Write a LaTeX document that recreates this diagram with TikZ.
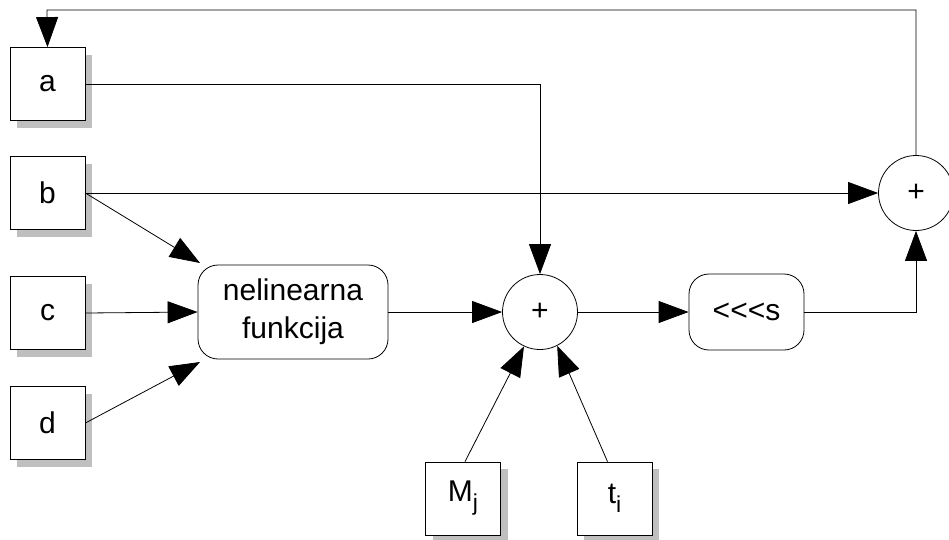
\documentclass[tikz,border=0pt]{standalone}
\usepackage{fontspec}
\setmainfont{Liberation Sans}
\usetikzlibrary{arrows.meta,shadows}
\begin{document}
\begin{tikzpicture}[x=1pt,y=-1pt,
  every node/.style={font=\fontsize{30}{38}\selectfont},
  inbox/.style={draw,line width=0.8pt,fill=white,minimum width=75pt,minimum height=73pt,inner sep=0pt,
    drop shadow={shadow xshift=7pt,shadow yshift=-7pt,fill=black!25,opacity=1}},
  rbox/.style={draw,line width=0.8pt,rounded corners=20pt,align=center,inner sep=0pt},
  sumc/.style={draw,line width=0.8pt,circle,minimum size=75pt,inner sep=0pt},
  conn/.style={line width=0.8pt,-{Triangle[length=30pt,width=22pt]}},
  plain/.style={line width=0.8pt}]
\useasboundingbox (0,0) rectangle (949,539);
\node[inbox] (a) at (47.5,84) {a};
\node[inbox] (b) at (47.5,193) {b};
\node[inbox] (c) at (47.5,313) {c};
\node[inbox] (d) at (47.5,423) {d};
\node[rbox,minimum width=190pt,minimum height=94pt] (f) at (293,312) {nelinearna\\funkcija};
\node[sumc] (s1) at (540,312) {+};
\node[rbox,minimum width=115pt,minimum height=76pt] (sh) at (746.5,312) {<\kern0pt<\kern0pt<\kern0pt s};
\node[sumc] (s2) at (916,193) {+};
\node[inbox] (m) at (463,498.5) {M\raisebox{-0.3em}{\fontsize{23}{23}\selectfont j}};
\node[inbox] (t) at (614.5,498.5) {t\raisebox{-0.3em}{\fontsize{23}{23}\selectfont i}};
\coordinate (fb1) at (916,10);
\coordinate (fb2) at (47,10);
\coordinate (ac) at (540,84);
\coordinate (shc) at (916,312);
\draw[conn] (s2.north) -- (fb1) -- (fb2) -- (a.north);
\draw[conn] (a.east) -- (ac) -- (s1.north);
\draw[conn] (b.east) -- (s2.west);
\draw[conn] (b.east) -- (200,263);
\draw[conn] (c.east) -- (f.west);
\draw[conn] (d.east) -- (200,362);
\draw[conn] (f.east) -- (s1.west);
\draw[conn] (s1.east) -- (sh.west);
\draw[conn] (sh.east) -- (shc) -- (s2.south);
\draw[conn] (m.north) ++(2,0) -- (s1.245);
\draw[conn] (t.north) ++(-7,0) -- (s1.297);
\end{tikzpicture}
\end{document}
